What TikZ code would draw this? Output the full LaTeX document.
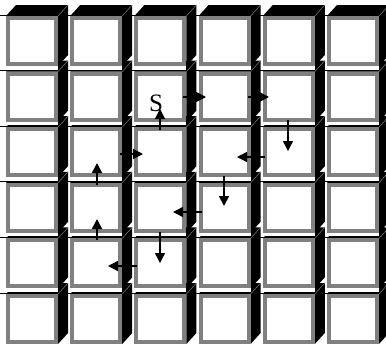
\documentclass[tikz,border=0pt]{standalone}
\usepackage{fontspec}
\setmainfont{Liberation Serif}
\usetikzlibrary{arrows.meta}
\definecolor{cubeGray}{RGB}{128,128,128}
\newcommand{\gridCube}[2]{%
\fill[black] (#1,#2) -- ++(10,-11) -- ++(52,0) -- ++(0,50) -- ++(-10,11) -- ++(0,-50) -- cycle;
\draw[cubeGray, line width=0.5pt] (#1+52,#2) -- ++(10,-11);
\fill[white] (#1,#2) rectangle (#1+52,#2+53.5);
\draw[cubeGray, line width=4pt] (#1+2,#2+2) rectangle (#1+50,#2+48);}
\tikzset{pathArrow/.style={line width=1.5pt, -{Triangle[length=10pt,width=10pt]}}}

\begin{document}
\begin{tikzpicture}[x=1pt,y=-1pt]
\useasboundingbox (0,0) rectangle (386,349);
\fill[white] (0,0) rectangle (386,349);
% row lines behind the cubes
\draw[black, line width=0.8pt] (0,15) -- (386,15);
\draw[black, line width=0.8pt] (0,70.6) -- (386,70.6);
\draw[black, line width=0.8pt] (0,126.2) -- (386,126.2);
\draw[black, line width=0.8pt] (0,181.8) -- (386,181.8);
\draw[black, line width=0.8pt] (0,237.4) -- (386,237.4);
\draw[black, line width=0.8pt] (0,293) -- (386,293);
% cubes, bottom row first
\gridCube{6}{294}\gridCube{70.2}{294}\gridCube{134.4}{294}\gridCube{198.6}{294}\gridCube{262.8}{294}\gridCube{327}{294}
\gridCube{6}{238.4}\gridCube{70.2}{238.4}\gridCube{134.4}{238.4}\gridCube{198.6}{238.4}\gridCube{262.8}{238.4}\gridCube{327}{238.4}
\gridCube{6}{182.8}\gridCube{70.2}{182.8}\gridCube{134.4}{182.8}\gridCube{198.6}{182.8}\gridCube{262.8}{182.8}\gridCube{327}{182.8}
\gridCube{6}{127.2}\gridCube{70.2}{127.2}\gridCube{134.4}{127.2}\gridCube{198.6}{127.2}\gridCube{262.8}{127.2}\gridCube{327}{127.2}
\gridCube{6}{71.6}\gridCube{70.2}{71.6}\gridCube{134.4}{71.6}\gridCube{198.6}{71.6}\gridCube{262.8}{71.6}\gridCube{327}{71.6}
\gridCube{6}{16}\gridCube{70.2}{16}\gridCube{134.4}{16}\gridCube{198.6}{16}\gridCube{262.8}{16}\gridCube{327}{16}
% start label and path
\node[font={\fontsize{25}{25}\selectfont}, inner sep=0pt] (start) at (156,103) {S};
\draw[pathArrow] (160,130) -- (160,109);
\draw[pathArrow] (183,97) -- (206,97);
\draw[pathArrow] (248,97) -- (269,97);
\draw[pathArrow] (288,120) -- (288,151);
\draw[pathArrow] (265,157) -- (237,157);
\draw[pathArrow] (224,176) -- (224,206);
\draw[pathArrow] (202,212) -- (173,212);
\draw[pathArrow] (160,232) -- (160,263);
\draw[pathArrow] (137,266) -- (108,266);
\draw[pathArrow] (97,240) -- (97,219);
\draw[pathArrow] (97,185) -- (97,163);
\draw[pathArrow] (120,154) -- (143,154);
\end{tikzpicture}
\end{document}
